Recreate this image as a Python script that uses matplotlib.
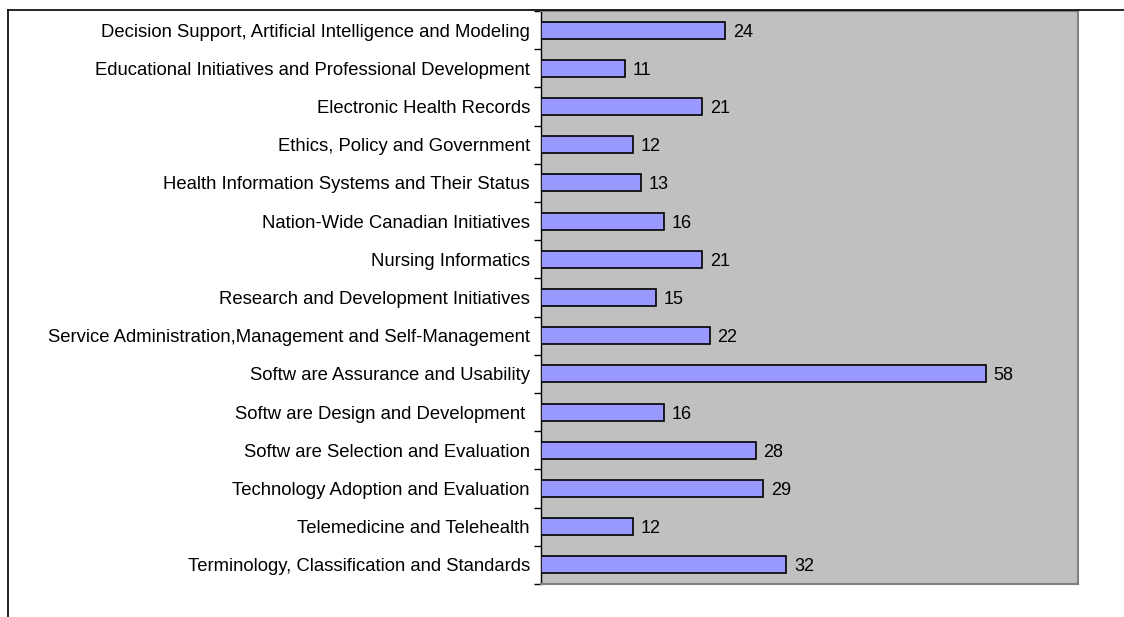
import matplotlib
matplotlib.use("Agg")
import matplotlib.pyplot as plt
from matplotlib.lines import Line2D

categories = [
    "Decision Support, Artificial Intelligence and Modeling",
    "Educational Initiatives and Professional Development",
    "Electronic Health Records",
    "Ethics, Policy and Government",
    "Health Information Systems and Their Status",
    "Nation-Wide Canadian Initiatives",
    "Nursing Informatics",
    "Research and Development Initiatives",
    "Service Administration,Management and Self-Management",
    "Softw are Assurance and Usability",
    "Softw are Design and Development ",
    "Softw are Selection and Evaluation",
    "Technology Adoption and Evaluation",
    "Telemedicine and Telehealth",
    "Terminology, Classification and Standards",
]
values = [24, 11, 21, 12, 13, 16, 21, 15, 22, 58, 16, 28, 29, 12, 32]

plt.rcParams['font.family'] = ['Liberation Sans', 'DejaVu Sans']

W, H = 1124, 617
fig = plt.figure(figsize=(W / 100, H / 100), dpi=100)
fig.patch.set_facecolor('white')

left, right, top, bottom = 541, 1078, 11, 584
ax = fig.add_axes([left / W, 1 - bottom / H, (right - left) / W, (bottom - top) / H])
ax.set_facecolor('#C0C0C0')

n = len(categories)
pos = list(range(n))
ax.barh(pos, values, height=0.45, color='#9999FF', edgecolor='black', linewidth=1.2, zorder=3)
for p, v in zip(pos, values):
    ax.text(v + 1.0, p, str(v), va='center_baseline', ha='left', fontsize=13, color='black', zorder=4)

ax.set_xlim(0, 70)
ax.set_ylim(n - 0.5, -0.5)
ax.set_yticks(pos)
ax.set_yticklabels(categories, fontsize=13.3)
ax.set_yticks([i - 0.5 for i in range(n + 1)], minor=True)
ax.tick_params(axis='y', which='major', length=0, pad=8)
ax.tick_params(axis='y', which='minor', length=5, width=1, color='black')
ax.set_xticks([])

for s in ['top', 'right', 'bottom']:
    ax.spines[s].set_color('#808080')
    ax.spines[s].set_linewidth(1.5)
ax.spines['left'].set_color('black')
ax.spines['left'].set_linewidth(1)

# outer chart-area border (cropped)
fig.add_artist(Line2D([8 / W, 1.0], [1 - 9.5 / H, 1 - 9.5 / H], color='black', linewidth=1.2, transform=fig.transFigure))
fig.add_artist(Line2D([8 / W, 8 / W], [1 - 9.5 / H, 0.0], color='black', linewidth=1.2, transform=fig.transFigure))

fig.savefig('out.png', dpi=100, facecolor='white')
